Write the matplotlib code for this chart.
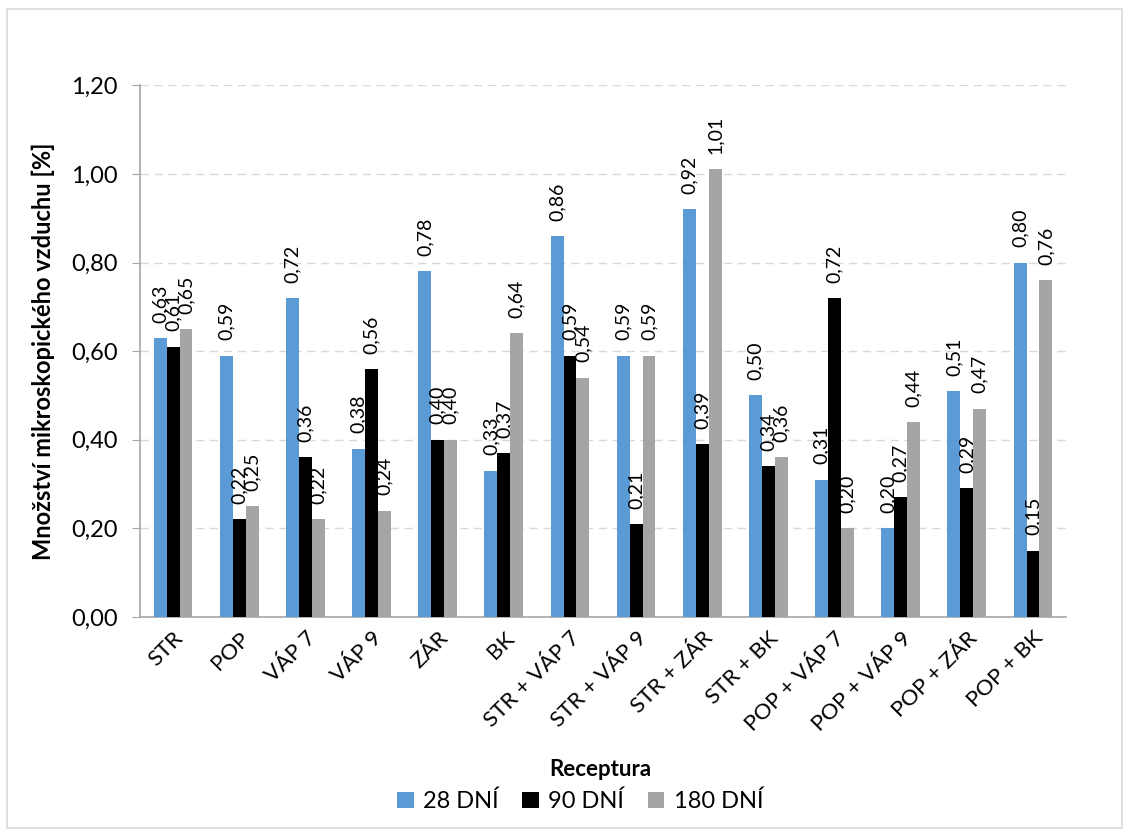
import numpy as np
import matplotlib.pyplot as plt
from matplotlib.patches import Rectangle

plt.rcParams['font.family'] = ['Lato', 'DejaVu Sans']

categories = ["STR", "POP", "VÁP 7", "VÁP 9", "ZÁR", "BK", "STR + VÁP 7",
              "STR + VÁP 9", "STR + ZÁR", "STR + BK", "POP + VÁP 7",
              "POP + VÁP 9", "POP + ZÁR", "POP + BK"]
d28 = [0.63, 0.59, 0.72, 0.38, 0.78, 0.33, 0.86, 0.59, 0.92, 0.50, 0.31, 0.20, 0.51, 0.80]
d90 = [0.61, 0.22, 0.36, 0.56, 0.40, 0.37, 0.59, 0.21, 0.39, 0.34, 0.72, 0.27, 0.29, 0.15]
d180 = [0.65, 0.25, 0.22, 0.24, 0.40, 0.64, 0.54, 0.59, 1.01, 0.36, 0.20, 0.44, 0.47, 0.76]
series = [("28 DNÍ", d28, "#5B9BD5"), ("90 DNÍ", d90, "#000000"), ("180 DNÍ", d180, "#A5A5A5")]

fig = plt.figure(figsize=(11.33, 8.36), dpi=100)
ax = fig.add_axes([0.1236, 0.262, 0.8173, 0.636])

x = np.arange(len(categories))
w = 0.195
for i, (name, vals, col) in enumerate(series):
    pos = x + (i - 1) * w
    ax.bar(pos, vals, w, color=col, label=name, zorder=3)
    for px, v in zip(pos, vals):
        ax.annotate(f"{v:.2f}".replace(".", ","), (px, v), xytext=(0, 11),
                    textcoords="offset points", rotation=90, ha="center",
                    va="bottom", fontsize=14, color="#000000")

ax.set_xlim(-0.5, len(categories) - 0.5)
ax.set_ylim(0, 1.2)
yt = np.arange(0, 1.21, 0.2)
ax.set_yticks(yt)
ax.set_yticklabels([f"{t:.2f}".replace(".", ",") for t in yt], fontsize=17)
ax.set_xticks(x)
ax.set_xticklabels(categories, rotation=45, ha="right", rotation_mode="anchor", fontsize=16)
ax.tick_params(axis="x", length=0, pad=8)
ax.tick_params(axis="y", length=6, color="#A6A6A6", pad=10)
ax.yaxis.grid(True, color="#D9D9D9", linestyle=(0, (6, 4)), lw=1, zorder=0)
for s in ["top", "right"]:
    ax.spines[s].set_visible(False)
for s in ["left", "bottom"]:
    ax.spines[s].set_color("#A6A6A6")
    ax.spines[s].set_linewidth(1.2)

ax.set_ylabel("Množství mikroskopického vzduchu [%]", fontsize=17, fontweight="bold", labelpad=12)
fig.text(0.53, 0.079, "Receptura", ha="center", va="center", fontsize=16, fontweight="bold")
fig.legend(loc="center", bbox_to_anchor=(0.512, 0.041), ncol=3, frameon=False,
           fontsize=17, handlelength=0.7, handleheight=0.7, handletextpad=0.4,
           columnspacing=1.0)

fig.patches.append(Rectangle((0.006, 0.009), 0.984, 0.98, transform=fig.transFigure,
                             fill=False, edgecolor="#D9D9D9", lw=1.2))

fig.savefig("out.png", dpi=100)
